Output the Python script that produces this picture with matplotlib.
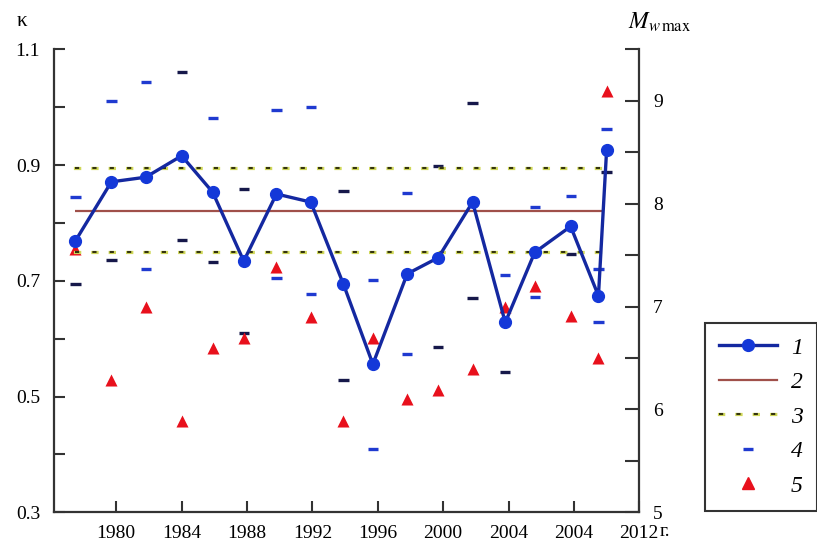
import matplotlib
matplotlib.use('Agg')
import matplotlib.pyplot as plt
import matplotlib.patheffects as pe
from matplotlib.lines import Line2D

plt.rcParams['font.family'] = ['Liberation Serif', 'DejaVu Serif']
plt.rcParams['mathtext.fontset'] = 'stix'
plt.rcParams['lines.scale_dashes'] = False

# ---- data ----
years = [1977.5, 1979.7, 1981.8, 1984.0, 1985.9, 1987.8, 1989.8, 1991.9, 1993.9,
         1995.7, 1997.8, 1999.7, 2001.8, 2003.8, 2005.6, 2007.8, 2009.5, 2010.0]
kappa = [0.769, 0.871, 0.879, 0.916, 0.853, 0.734, 0.850, 0.836, 0.694,
         0.556, 0.712, 0.740, 0.836, 0.628, 0.749, 0.794, 0.674, 0.926]
m_upper = [8.06, 9.00, 9.18, 9.28, 8.83, 8.14, 8.91, 8.94, 8.12,
           7.26, 8.10, 8.37, 8.98, 7.31, 7.97, 8.07, 7.36, 8.73]
m_lower = [7.22, 7.45, 7.36, 7.65, 7.43, 6.74, 7.28, 7.12, 6.29,
           5.62, 6.54, 6.61, 7.08, 6.36, 7.09, 7.51, 6.85, 8.31]
m_max = [7.56, 6.29, 7.00, 5.89, 6.60, 6.69, 7.38, 6.90, 5.89,
         6.69, 6.10, 6.19, 6.39, 7.00, 7.20, 6.91, 6.50, 9.09]
kappa_mean = 0.821
kappa_hi = 0.895
kappa_lo = 0.750
line_span = [1977.5, 2009.7]
x_ticks = [1980, 1984, 1988, 1992, 1996, 2000, 2004, 2008, 2012]
x_tick_labels = ['1980', '1984', '1988', '1992', '1996', '2000', '2004', '2004', '2012']
legend_labels = ['1', '2', '3', '4', '5']

# dash colours (style only)
BLUE = '#1f3ad0'
NAVY = '#16184a'
upper_cols = [BLUE, BLUE, BLUE, NAVY, BLUE, NAVY, BLUE, BLUE, NAVY,
              BLUE, BLUE, NAVY, NAVY, BLUE, BLUE, BLUE, BLUE, BLUE]
lower_cols = [NAVY, NAVY, BLUE, NAVY, NAVY, NAVY, BLUE, BLUE, NAVY,
              BLUE, BLUE, NAVY, NAVY, NAVY, BLUE, NAVY, BLUE, NAVY]

DOT_LS = (0, (3.0, 9.5))
DOT_PE = [pe.Stroke(linewidth=2.3, foreground='#d0d85a', capstyle='projecting'),
          pe.Normal()]

fig = plt.figure(figsize=(8.17, 5.47), dpi=100)
ax = fig.add_axes([0.0661, 0.0634, 0.7164, 0.8465])
ax2 = ax.twinx()
ax.set_zorder(ax2.get_zorder() + 1)
ax.patch.set_visible(False)

AXC = '#333333'
# left axis
ax.set_xlim(1976.19, 2012)
ax.set_ylim(0.3, 1.1)
ax.set_yticks([0.3, 0.4, 0.5, 0.6, 0.7, 0.8, 0.9, 1.0, 1.1])
ax.set_yticklabels(['0.3', '', '0.5', '', '0.7', '', '0.9', '', '1.1'])
ax.set_xticks(x_ticks)
ax.set_xticklabels(x_tick_labels)
ax.tick_params(axis='both', direction='in', length=8, width=1.5, colors=AXC,
               labelsize=14, labelcolor='black')
ax.tick_params(axis='x', pad=9)
ax.tick_params(axis='y', pad=10)
for s in ['top', 'right']:
    ax.spines[s].set_visible(False)
for s in ['left', 'bottom']:
    ax.spines[s].set_color(AXC)
    ax.spines[s].set_linewidth(1.6)

# right axis
ax2.set_ylim(5, 9.5)
ax2.set_yticks([5, 5.5, 6, 6.5, 7, 7.5, 8, 8.5, 9, 9.5])
ax2.set_yticklabels(['5', '', '6', '', '7', '', '8', '', '9', ''])
ax2.tick_params(axis='y', direction='in', length=10, width=1.5, colors=AXC,
                labelsize=14, labelcolor='black', pad=10)
for s in ['top', 'left', 'bottom']:
    ax2.spines[s].set_visible(False)
ax2.spines['right'].set_color(AXC)
ax2.spines['right'].set_linewidth(1.6)

# series 4 dashes and 5 triangles on the magnitude axis
ax2.scatter(years, m_upper, marker='_', s=55, linewidths=2.4, c=upper_cols, zorder=3)
ax2.scatter(years, m_lower, marker='_', s=55, linewidths=2.4, c=lower_cols, zorder=3)
ax2.scatter(years, m_max, marker='^', s=75, c='#e8101c', linewidths=0, zorder=4)

# reference lines
ax.hlines(kappa_mean, line_span[0], line_span[1], color='#a0504a', lw=1.6, zorder=2)
for v in (kappa_hi, kappa_lo):
    ax.plot(line_span, [v, v], color='#34340e', lw=1.5, ls=DOT_LS, zorder=2.1,
            dash_capstyle='butt', path_effects=DOT_PE)

# series 1
ax.plot(years, kappa, color='#1428a0', lw=2.4, marker='o', markersize=8.5,
        markerfacecolor='#1438d8', markeredgecolor='#1438d8', zorder=5)

# axis titles
fig.text(22 / 817, 1 - 22 / 547, 'κ', fontsize=15, ha='center', va='center')
fig.text(628 / 817, 1 - 22 / 547, r'$M_{w\,\mathrm{max}}$', fontsize=17,
         ha='left', va='center')
fig.text(660 / 817, 1 - 531 / 547, 'г.', fontsize=14, ha='left', va='center')

# legend
h1 = Line2D([], [], color='#1428a0', lw=2.4, marker='o', markersize=8.5,
            markerfacecolor='#1438d8', markeredgecolor='#1438d8')
h2 = Line2D([], [], color='#a0504a', lw=1.6)
h3 = Line2D([], [], color='#34340e', lw=1.5, ls=DOT_LS, dash_capstyle='butt',
            path_effects=DOT_PE)
h4 = Line2D([], [], color=BLUE, lw=0, marker='_', markersize=7, mew=2.4)
h5 = Line2D([], [], color='#e8101c', lw=0, marker='^', markersize=8)
leg = fig.legend([h1, h2, h3, h4, h5], legend_labels,
                 loc='upper right', bbox_to_anchor=(1.0, 1 - 323 / 547),
                 prop={'family': 'Liberation Serif', 'style': 'italic', 'size': 17},
                 frameon=True, fancybox=False, edgecolor='black',
                 handlelength=2.45, labelspacing=0.55, borderpad=0.6,
                 handletextpad=0.6, borderaxespad=0.0)
leg.get_frame().set_linewidth(1.5)

fig.savefig('out.png', dpi=100)
